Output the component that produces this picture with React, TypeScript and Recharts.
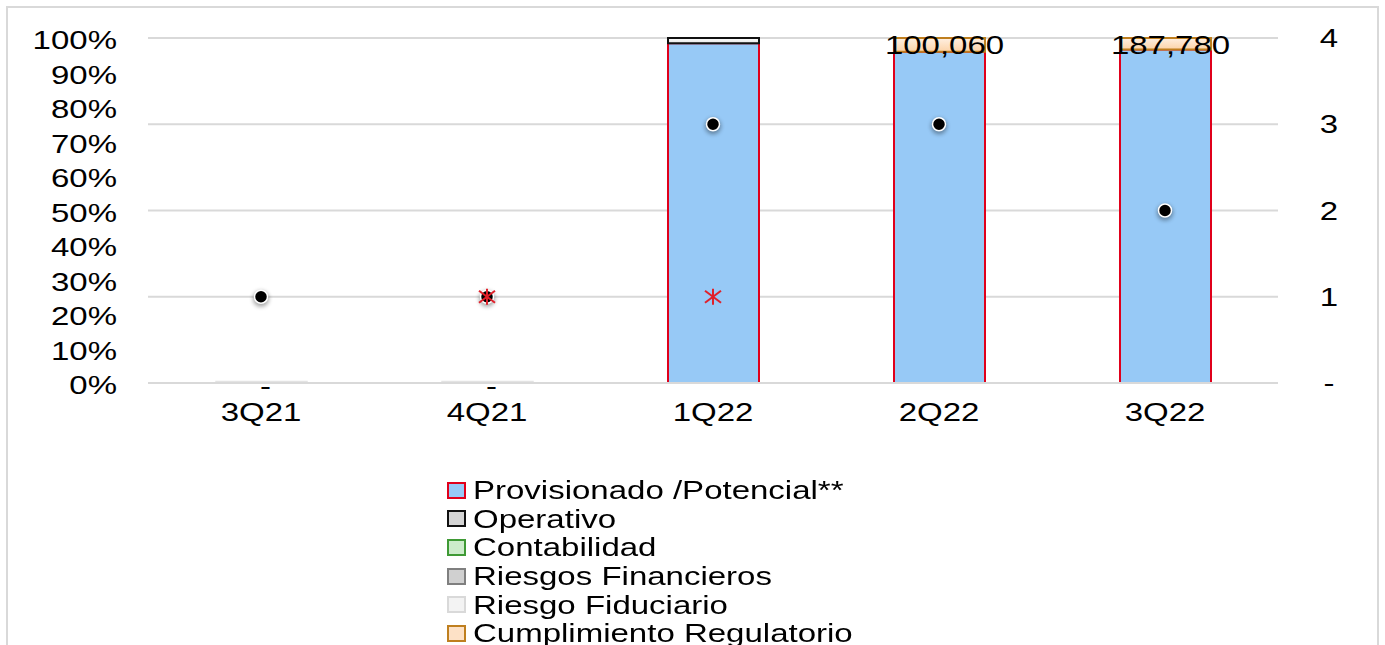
import React from "react";
import { ComposedChart, Bar, Scatter, XAxis, YAxis, CartesianGrid, LabelList } from "recharts";

const categories = ["3Q21", "4Q21", "1Q22", "2Q22", "3Q22"];
// % share of each category in the stacked column
const provisionado = [0, 0, 98.5, 96, 96.7];
const operativo = [0, 0, 1.5, 0, 0];
const contabilidad = [0, 0, 0, 0, 0];
const riesgosFinancieros = [0, 0, 0, 0, 0];
const riesgoFiduciario = [0.4, 0.4, 0, 0, 0];
const cumplimiento = [0, 0, 0, 4, 3.3];
const topLabels = ["", "", "", "100,060", "187,780"];
const zeroLabels = ["-", "-", "", "", ""];
// right axis markers
const nivel = [1, 1, 3, 3, 2];
const alertas: (number | null)[] = [null, 1, 1, null, null];

const leftTicks = [0, 10, 20, 30, 40, 50, 60, 70, 80, 90, 100];
const rightTicks = [0, 1, 2, 3, 4];

const FONT = '"Liberation Sans", Arial, sans-serif';
const SX = 1.32;

const data = categories.map((c, i) => ({
  cat: c,
  provisionado: provisionado[i],
  operativo: operativo[i],
  contabilidad: contabilidad[i],
  riesgosFinancieros: riesgosFinancieros[i],
  riesgoFiduciario: riesgoFiduciario[i],
  cumplimiento: cumplimiento[i],
  topLabel: topLabels[i],
  zeroLabel: zeroLabels[i],
  nivel: nivel[i],
  alerta: alertas[i],
}));

const legendItems = [
  { name: "Provisionado /Potencial**", fill: "#97c9f6", stroke: "#e0001b" },
  { name: "Operativo", fill: "#d4d4d4", stroke: "#111" },
  { name: "Contabilidad", fill: "#cdeccb", stroke: "#3f9a35" },
  { name: "Riesgos Financieros", fill: "#d0d0d0", stroke: "#7f7f7f" },
  { name: "Riesgo Fiduciario", fill: "#f3f3f3", stroke: "#d9d9d9" },
  { name: "Cumplimiento Regulatorio", fill: "#fde1c6", stroke: "#bf7f1f" },
];

const LeftTick = (props: any) => {
  const { y, payload } = props;
  return (
    <text transform={`translate(109,${y + 11}) scale(${SX},1)`} textAnchor="end" fontSize={25} fontFamily={FONT} fill="#000">
      {payload.value}%
    </text>
  );
};

const RightTick = (props: any) => {
  const { y, payload } = props;
  return (
    <text transform={`translate(1321,${y + 9}) scale(${SX},1)`} textAnchor="middle" fontSize={25} fontFamily={FONT} fill="#000">
      {payload.value === 0 ? "-" : payload.value}
    </text>
  );
};

const XTick = (props: any) => {
  const { x, payload } = props;
  return (
    <text transform={`translate(${x},413) scale(${SX},1)`} textAnchor="middle" fontSize={25} fontFamily={FONT} fill="#000">
      {payload.value}
    </text>
  );
};

const Dot = (props: any) => {
  const { cx, cy } = props;
  if (cx == null || cy == null || isNaN(cy)) return null;
  return (
    <g>
      <circle cx={cx} cy={cy + 2} r={8} fill="#000" opacity={0.35} filter="url(#blur)" />
      <circle cx={cx} cy={cy} r={6.5} fill="#000" stroke="#fff" strokeWidth={1.5} />
    </g>
  );
};

const Star = (props: any) => {
  const { cx, cy } = props;
  if (cx == null || cy == null || isNaN(cy)) return null;
  return (
    <g stroke="#e0202a" strokeWidth={2}>
      <line x1={cx} y1={cy - 9} x2={cx} y2={cy + 9} opacity={0.4} filter="url(#blur)" stroke="#000" />
      <line x1={cx} y1={cy - 8} x2={cx} y2={cy + 8} />
      <line x1={cx - 8} y1={cy - 6} x2={cx + 8} y2={cy + 6} />
      <line x1={cx - 8} y1={cy + 6} x2={cx + 8} y2={cy - 6} />
    </g>
  );
};

const TopLabel = (props: any) => {
  const { x, y, width, value } = props;
  if (!value) return null;
  return (
    <text transform={`translate(${x + width / 2 + 5},${y + 16}) scale(${SX},1)`} textAnchor="middle" fontSize={25} fontFamily={FONT} fill="#000">
      {value}
    </text>
  );
};

const ZeroLabel = (props: any) => {
  const { x, width, value } = props;
  if (!value) return null;
  return (
    <text transform={`translate(${x + width / 2 + 4},387) scale(${SX},1)`} textAnchor="middle" fontSize={25} fontFamily={FONT} fill="#000">
      {value}
    </text>
  );
};

export default function App() {
  return (
    <div
      style={{
        position: "absolute",
        left: 6,
        top: 6,
        width: 1369,
        height: 660,
        border: "2px solid #d9d9d9",
        background: "#fff",
        fontFamily: FONT,
      }}
    >
      <ComposedChart width={1369} height={420} data={data} margin={{ top: 30, right: 0, left: 0, bottom: 0 }} barSize={91}>
        <defs>
          <filter id="blur" x="-50%" y="-50%" width="200%" height="200%">
            <feGaussianBlur stdDeviation="2" />
          </filter>
          <linearGradient id="peach" x1="0" y1="0" x2="0" y2="1">
            <stop offset="0%" stopColor="#fff0e2" />
            <stop offset="100%" stopColor="#fcd3a8" />
          </linearGradient>
          <linearGradient id="grayw" x1="0" y1="0" x2="0" y2="1">
            <stop offset="0%" stopColor="#ffffff" />
            <stop offset="100%" stopColor="#e6e6e6" />
          </linearGradient>
        </defs>
        <CartesianGrid yAxisId="right" vertical={false} stroke="#d9d9d9" strokeWidth={2} />
        <XAxis dataKey="cat" height={45} axisLine={{ stroke: "#d9d9d9", strokeWidth: 2 }} tickLine={false} tick={<XTick />} interval={0} />
        <YAxis yAxisId="left" width={140} domain={[0, 100]} ticks={leftTicks} axisLine={false} tickLine={false} tick={<LeftTick />} />
        <YAxis yAxisId="right" orientation="right" width={99} domain={[0, 4]} ticks={rightTicks} axisLine={false} tickLine={false} tick={<RightTick />} />
        <Bar yAxisId="left" stackId="s" dataKey="provisionado" name="Provisionado /Potencial**" fill="#97c9f6" stroke="#e0001b" strokeWidth={2} isAnimationActive={false} />
        <Bar yAxisId="left" stackId="s" dataKey="operativo" name="Operativo" fill="url(#grayw)" stroke="#111" strokeWidth={2} isAnimationActive={false} />
        <Bar yAxisId="left" stackId="s" dataKey="contabilidad" name="Contabilidad" fill="#cdeccb" stroke="#3f9a35" strokeWidth={2} isAnimationActive={false} />
        <Bar yAxisId="left" stackId="s" dataKey="riesgosFinancieros" name="Riesgos Financieros" fill="#d0d0d0" stroke="#7f7f7f" strokeWidth={2} isAnimationActive={false} />
        <Bar yAxisId="left" stackId="s" dataKey="riesgoFiduciario" name="Riesgo Fiduciario" fill="#ffffff" stroke="#e3e3e3" strokeWidth={1.5} isAnimationActive={false}>
          <LabelList dataKey="zeroLabel" content={<ZeroLabel />} />
        </Bar>
        <Bar yAxisId="left" stackId="s" dataKey="cumplimiento" name="Cumplimiento Regulatorio" fill="url(#peach)" stroke="#bf7f1f" strokeWidth={2} isAnimationActive={false}>
          <LabelList dataKey="topLabel" content={<TopLabel />} />
        </Bar>
        <Scatter yAxisId="right" dataKey="nivel" shape={<Dot />} isAnimationActive={false} />
        <Scatter yAxisId="right" dataKey="alerta" shape={<Star />} isAnimationActive={false} />
      </ComposedChart>
      <div style={{ position: "absolute", left: 439, top: 468 }}>
        {legendItems.map((it) => (
          <div key={it.name} style={{ display: "flex", alignItems: "center", height: 28.6 }}>
            <div
              style={{
                width: 15,
                height: 13,
                background: it.fill,
                border: `2px solid ${it.stroke}`,
                marginRight: 7,
                flex: "none",
              }}
            />
            <div style={{ fontSize: 25, lineHeight: "28px", whiteSpace: "nowrap", transform: `scaleX(${SX})`, transformOrigin: "left center", color: "#000" }}>
              {it.name}
            </div>
          </div>
        ))}
      </div>
    </div>
  );
}
